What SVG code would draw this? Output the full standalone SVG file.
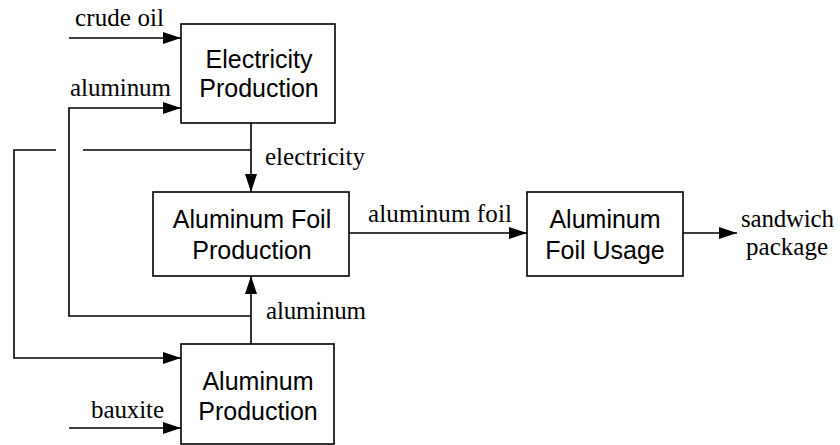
<svg xmlns="http://www.w3.org/2000/svg" width="840" height="445" viewBox="0 0 840 445">
<style>
.box{fill:#fff;stroke:#000;stroke-width:1.6}
.nt{font-family:"Liberation Sans",Arial,sans-serif;font-size:25px;fill:#000;text-anchor:middle}
.lb{font-family:"Liberation Serif","Times New Roman",serif;font-size:25px;fill:#000}
.ln{fill:none;stroke:#000;stroke-width:1.6}
</style>
<defs>
<marker id="ah" viewBox="0 0 18 12" refX="18" refY="6" markerWidth="18" markerHeight="12" markerUnits="userSpaceOnUse" orient="auto"><path d="M0,0 L18,6 L0,12 z" fill="#000"/></marker>
</defs>
<rect width="840" height="445" fill="#fff"/>
<g id="connectors">
<path class="ln" d="M69,38 H181" marker-end="url(#ah)"/>
<path class="ln" d="M251,316 H69 V108 H181" marker-end="url(#ah)"/>
<path class="ln" d="M251,123 V192" stroke-width="2" marker-end="url(#ah)"/>
<path class="ln" d="M251,150 H83"/>
<path class="ln" d="M56,150 H14 V358 H181" marker-end="url(#ah)"/>
<path class="ln" d="M251,344 V276" stroke-width="2" marker-end="url(#ah)"/>
<path class="ln" d="M349,233 H527" marker-end="url(#ah)"/>
<path class="ln" d="M683,233 H737" marker-end="url(#ah)"/>
<path class="ln" d="M69,428 H181" marker-end="url(#ah)"/>
<text class="lb" x="75" y="26" textLength="89" lengthAdjust="spacing">crude oil</text>
<text class="lb" x="70" y="96" textLength="101" lengthAdjust="spacing">aluminum</text>
<text class="lb" x="265" y="165" textLength="100" lengthAdjust="spacing">electricity</text>
<text class="lb" x="368" y="222" textLength="144" lengthAdjust="spacing">aluminum foil</text>
<text class="lb" x="266" y="319" textLength="100" lengthAdjust="spacing">aluminum</text>
<text class="lb" x="91" y="418" textLength="73" lengthAdjust="spacing">bauxite</text>
<text class="lb" x="741" y="227" textLength="93" lengthAdjust="spacing">sandwich</text>
<text class="lb" x="746" y="255" textLength="82" lengthAdjust="spacing">package</text>
</g>
<g id="electricity-production">
<rect class="box" x="181" y="24" width="154" height="99"/>
<text class="nt" x="259" y="68">Electricity</text>
<text class="nt" x="259" y="97">Production</text>
</g>
<g id="aluminum-foil-production">
<rect class="box" x="153" y="192" width="196" height="84"/>
<text class="nt" x="252" y="228">Aluminum Foil</text>
<text class="nt" x="252" y="259">Production</text>
</g>
<g id="aluminum-foil-usage">
<rect class="box" x="527" y="192" width="156" height="84"/>
<text class="nt" x="605" y="228">Aluminum</text>
<text class="nt" x="605" y="259">Foil Usage</text>
</g>
<g id="aluminum-production">
<rect class="box" x="181" y="344" width="153" height="100"/>
<text class="nt" x="258" y="390">Aluminum</text>
<text class="nt" x="258" y="420">Production</text>
</g>
</svg>
